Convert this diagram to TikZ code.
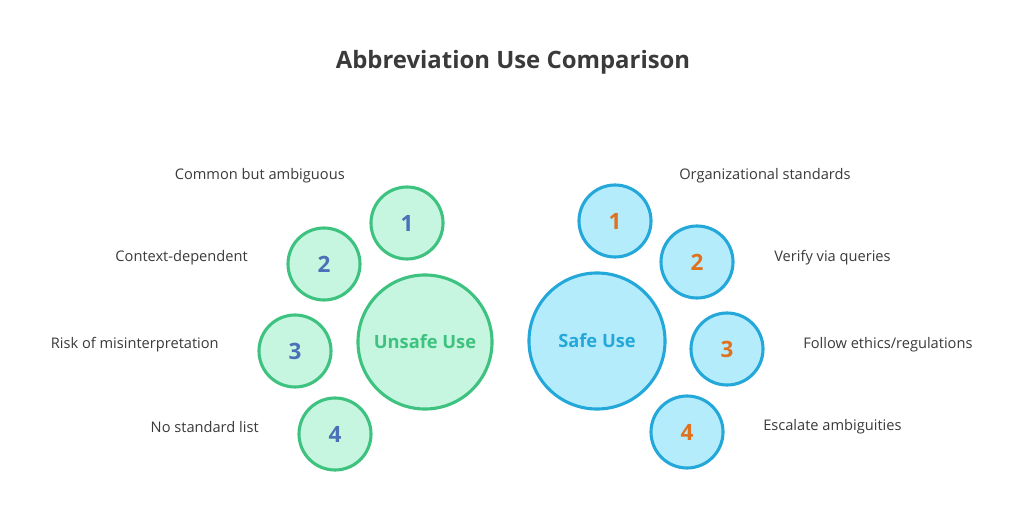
\documentclass[tikz,border=0pt]{standalone}
\usepackage{fontspec}
\setmainfont{Open Sans}
\definecolor{greenfill}{HTML}{C6F6DF}
\definecolor{greenline}{HTML}{3DC27F}
\definecolor{bluefill}{HTML}{B5ECFC}
\definecolor{blueline}{HTML}{23A8D9}
\definecolor{numblue}{HTML}{4A70B8}
\definecolor{numorange}{HTML}{E0711F}
\definecolor{textgray}{HTML}{3A3A3A}
\tikzset{
  unsafebig/.style={circle, draw=greenline, fill=greenfill, line width=2.2pt, minimum size=3.35cm, inner sep=0pt, font=\fontsize{13}{15}\selectfont\bfseries, text=greenline},
  unsafesmall/.style={circle, draw=greenline, fill=greenfill, line width=2.2pt, minimum size=1.8cm, inner sep=0pt, font=\fontsize{16}{18}\selectfont\bfseries, text=numblue},
  safebig/.style={circle, draw=blueline, fill=bluefill, line width=2.2pt, minimum size=3.4cm, inner sep=0pt, font=\fontsize{13}{15}\selectfont\bfseries, text=blueline},
  safesmall/.style={circle, draw=blueline, fill=bluefill, line width=2.2pt, minimum size=1.8cm, inner sep=0pt, font=\fontsize{16}{18}\selectfont\bfseries, text=numorange},
  itemtext/.style={font=\fontsize{10.4}{12}\selectfont, text=textgray, inner sep=0pt}
}
\begin{document}
\begin{tikzpicture}[x=0.025cm, y=-0.025cm]
    \useasboundingbox[fill=white] (0,0) rectangle (1026,518);

    % Title
    \node[font=\fontsize{17}{20}\selectfont\bfseries, text=textgray] (title) at (513,62) {Abbreviation Use Comparison};

    % Unsafe side
    \node[unsafebig] (unsafe) at (425,342) {Unsafe Use};
    \node[unsafesmall] (u1) at (407,223) {1};
    \node[unsafesmall] (u2) at (324,264) {2};
    \node[unsafesmall] (u3) at (295,351) {3};
    \node[unsafesmall] (u4) at (335,434) {4};

    \node[itemtext, anchor=east] (ut1) at (345,176) {Common but ambiguous};
    \node[itemtext, anchor=east] (ut2) at (248,258) {Context-dependent};
    \node[itemtext, anchor=east] (ut3) at (219,345) {Risk of misinterpretation};
    \node[itemtext, anchor=east] (ut4) at (259,427) {No standard list};

    % Safe side
    \node[safebig] (safe) at (597,341) {Safe Use};
    \node[safesmall] (s1) at (615,221) {1};
    \node[safesmall] (s2) at (697,262) {2};
    \node[safesmall] (s3) at (727,349) {3};
    \node[safesmall] (s4) at (687,432) {4};

    \node[itemtext, anchor=west] (st1) at (679,176) {Organizational standards};
    \node[itemtext, anchor=west] (st2) at (774,258) {Verify via queries};
    \node[itemtext, anchor=west] (st3) at (803,345) {Follow ethics/regulations};
    \node[itemtext, anchor=west] (st4) at (763,427) {Escalate ambiguities};
\end{tikzpicture}
\end{document}
